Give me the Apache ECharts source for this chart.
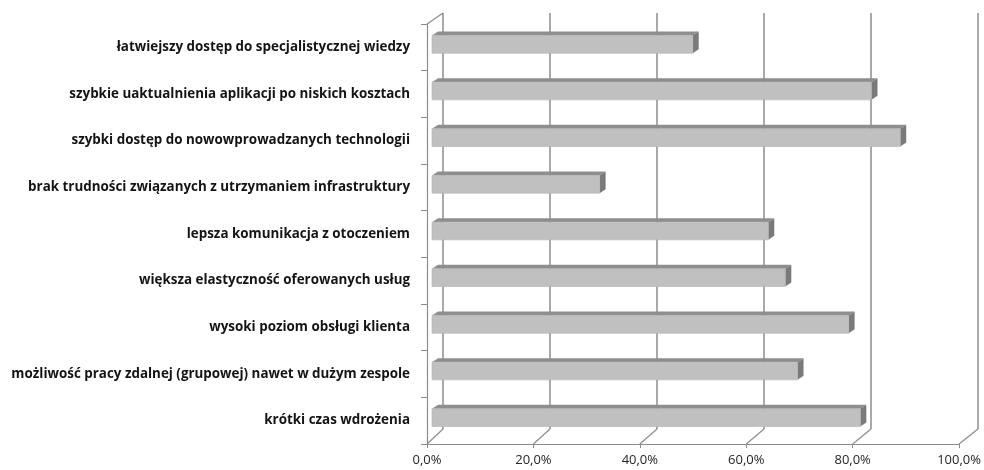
<!DOCTYPE html>
<html>
<head>
<meta charset="utf-8">
<script src="https://cdn.jsdelivr.net/npm/echarts@6/dist/echarts.min.js"></script>
<style>
html,body{margin:0;padding:0;background:#fff;}
#chart{width:984px;height:470px;}
</style>
</head>
<body>
<div id="chart"></div>
<script>
const categories = [
  'łatwiejszy dostęp do specjalistycznej wiedzy',
  'szybkie uaktualnienia aplikacji po niskich kosztach',
  'szybki dostęp do nowowprowadzanych technologii',
  'brak trudności związanych z utrzymaniem infrastruktury',
  'lepsza komunikacja z otoczeniem',
  'większa elastyczność oferowanych usług',
  'wysoki poziom obsługi klienta',
  'możliwość pracy zdalnej (grupowej) nawet w dużym zespole',
  'krótki czas wdrożenia'
];
const values = [49.0, 82.6, 88.0, 31.5, 63.2, 66.4, 78.3, 68.7, 80.5];
const ticks = [0, 20, 40, 60, 80, 100];

const GRID_COLOR = '#8c8c8c';
const chart = echarts.init(document.getElementById('chart'), null, {renderer: 'canvas'});

const option = {
  animation: false,
  backgroundColor: '#ffffff',
  grid: [
    {left: 427, right: 22, top: 24, bottom: 26},
    {left: 443, width: 535, top: 13, bottom: 41}
  ],
  xAxis: [
    {
      type: 'value', gridIndex: 0, min: 0, max: 100, interval: 20,
      axisLine: {show: true, lineStyle: {color: GRID_COLOR, width: 1.2}},
      axisTick: {show: true, length: 4, lineStyle: {color: GRID_COLOR}},
      splitLine: {show: false},
      axisLabel: {
        margin: 10, color: '#262626', fontFamily: 'Open Sans', fontSize: 13,
        formatter: v => v.toFixed(1).replace('.', ',') + '%'
      }
    },
    {
      type: 'value', gridIndex: 1, min: 0, max: 100, interval: 20,
      axisLine: {show: false}, axisTick: {show: false}, axisLabel: {show: false},
      splitLine: {show: true, lineStyle: {color: GRID_COLOR, width: 1.5}}
    }
  ],
  yAxis: [
    {
      type: 'category', gridIndex: 0, data: categories, inverse: true,
      axisLine: {show: true, lineStyle: {color: GRID_COLOR, width: 1.2}},
      axisTick: {show: true, length: 6, lineStyle: {color: GRID_COLOR}},
      axisLabel: {margin: 17, color: '#141414', fontFamily: 'Open Sans', fontWeight: 'bold', fontSize: 13.4}
    },
    {
      type: 'category', gridIndex: 1, data: categories, inverse: true, show: false
    }
  ],
  series: [
    {
      type: 'custom',
      xAxisIndex: 0, yAxisIndex: 0,
      z: 10,
      data: values.map((v, i) => [v, i]),
      encode: {x: 0, y: 1},
      renderItem: function (params, api) {
        const v = api.value(0), c = api.value(1);
        const p0 = api.coord([0, c]);
        const p1 = api.coord([v, c]);
        const band = api.size([0, 1])[1];
        const h = band * 0.38;
        const ox = 5, oy = -3, dx = 6, dy = -4;
        const x0 = p0[0] + ox, x1 = p1[0] + ox;
        const yc = p0[1] + oy;
        const yT = yc - h / 2, yB = yc + h / 2;
        return {
          type: 'group',
          children: [
            {type: 'polygon', shape: {points: [[x0, yT], [x1, yT], [x1 + dx, yT + dy], [x0 + dx, yT + dy]]},
             style: {fill: '#8e8e8e', stroke: null}},
            {type: 'polygon', shape: {points: [[x1, yT], [x1 + dx, yT + dy], [x1 + dx, yB + dy], [x1, yB]]},
             style: {fill: '#7a7a7a', stroke: null}},
            {type: 'rect', shape: {x: x0, y: yT, width: x1 - x0, height: yB - yT},
             style: {fill: '#c0c0c0', stroke: '#b4b4b4', lineWidth: 0.6}}
          ]
        };
      }
    }
  ]
};
chart.setOption(option);

// Floor diagonals and wall edges, positioned via the axes' own scales
const g0 = chart.getModel().getComponent('grid', 0).coordinateSystem.getRect();
const g1 = chart.getModel().getComponent('grid', 1).coordinateSystem.getRect();
const graphics = ticks.map(t => ({
  type: 'line', z: 1,
  shape: {
    x1: chart.convertToPixel({xAxisIndex: 0}, t), y1: g0.y + g0.height,
    x2: chart.convertToPixel({xAxisIndex: 1}, t), y2: g1.y + g1.height
  },
  style: {stroke: GRID_COLOR, lineWidth: 1.2}
}));
// left wall top edge
graphics.push({
  type: 'line', z: 1,
  shape: {x1: g0.x, y1: g0.y, x2: g1.x, y2: g1.y},
  style: {stroke: GRID_COLOR, lineWidth: 1.2}
});
chart.setOption({graphic: graphics});
</script>
</body>
</html>
